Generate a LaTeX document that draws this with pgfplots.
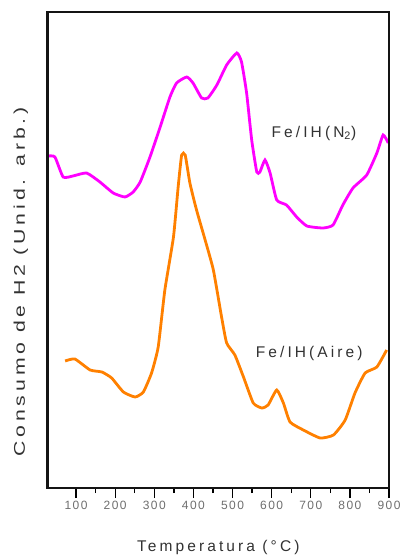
\documentclass[border=0pt]{standalone}
\usepackage{fontspec}
\setmainfont{Liberation Sans}
\usepackage{pgfplots}
\pgfplotsset{compat=1.18}
\definecolor{mag}{RGB}{255,0,255}
\definecolor{orn}{RGB}{255,128,0}
\definecolor{txt}{RGB}{50,50,50}
\definecolor{tck}{RGB}{110,110,110}
\definecolor{frame}{RGB}{20,20,20}
\begin{document}
\begin{tikzpicture}
\begin{axis}[
  name=ax,
  scale only axis, width=341.5pt, height=476pt,
  xmin=27, xmax=900, ymin=0, ymax=476,
  xtick={100,200,...,900}, minor x tick num=1,
  ytick=\empty,
  xtick pos=bottom,
  tick align=outside,
  major tick length=10pt, minor tick length=5pt,
  every tick/.style={black, line width=1.3pt},
  axis line style={line width=1.8pt, frame},
  /pgf/number format/assume math mode=true,
  xticklabel style={font=\fontsize{12}{12}\selectfont\addfontfeature{LetterSpace=12}, text=tck},
  xlabel={Temperatura (°C)},
  xlabel style={at={(axis description cs:0.5,-0.126)}, anchor=center, font=\fontsize{15.5}{16}\selectfont\addfontfeature{LetterSpace=20}, text=txt},
  ylabel={\scalebox{1.37}[1]{\addfontfeature{LetterSpace=18}Consumo de H2 (Unid. arb.)}},
  ylabel style={at={(axis description cs:-0.078,0.433)}, anchor=center, font=\fontsize{15.5}{16}\selectfont, text=txt},
  clip=false,
]
\addplot[mag, line width=2.8pt, smooth, tension=0.3] coordinates {
(29,332) (46,331) (67,311) (92,312) (127,315) (161,306) (195,295) (225,291)
(246,296) (264,306) (289,331) (315,361) (340,391) (357,405) (383,411) (399,405)
(421,390) (437,390) (460,403) (485,423) (511,435) (523,426) (536,395) (549,348)
(562,316) (570,316) (583,328) (596,315) (613,288) (638,283) (664,271) (690,262)
(731,260) (757,263) (782,283) (808,300) (843,313) (869,335) (885,353) (898,345)
};
\addplot[orn, line width=2.8pt, smooth, tension=0.3] coordinates {
(72,127) (97,129) (136,118) (166,116) (191,110) (221,96) (251,91) (272,96)
(293,115) (310,141) (327,198) (349,251) (361,301) (370,333) (379,333) (391,305)
(408,278) (430,248) (451,218) (472,171) (485,145) (506,133) (528,111) (553,85)
(575,80) (591,83) (613,98) (630,85) (647,66) (681,58) (724,50) (758,53)
(788,68) (813,95) (839,115) (869,121) (894,138)
};
\node[font=\fontsize{15.5}{16}\selectfont\addfontfeature{LetterSpace=20}, text=txt] at (axis cs:708,355) {Fe/IH(N\textsubscript{2})};
\node[font=\fontsize{15.5}{16}\selectfont\addfontfeature{LetterSpace=20}, text=txt] at (axis cs:696,135) {Fe/IH(Aire)};
\draw[line width=2.2pt, frame] (rel axis cs:0,0) rectangle (rel axis cs:1,1);
\end{axis}
\path ([xshift=-47.5pt,yshift=-71pt]ax.south west) rectangle ([xshift=14pt,yshift=12pt]ax.north east);
\end{tikzpicture}
\end{document}
